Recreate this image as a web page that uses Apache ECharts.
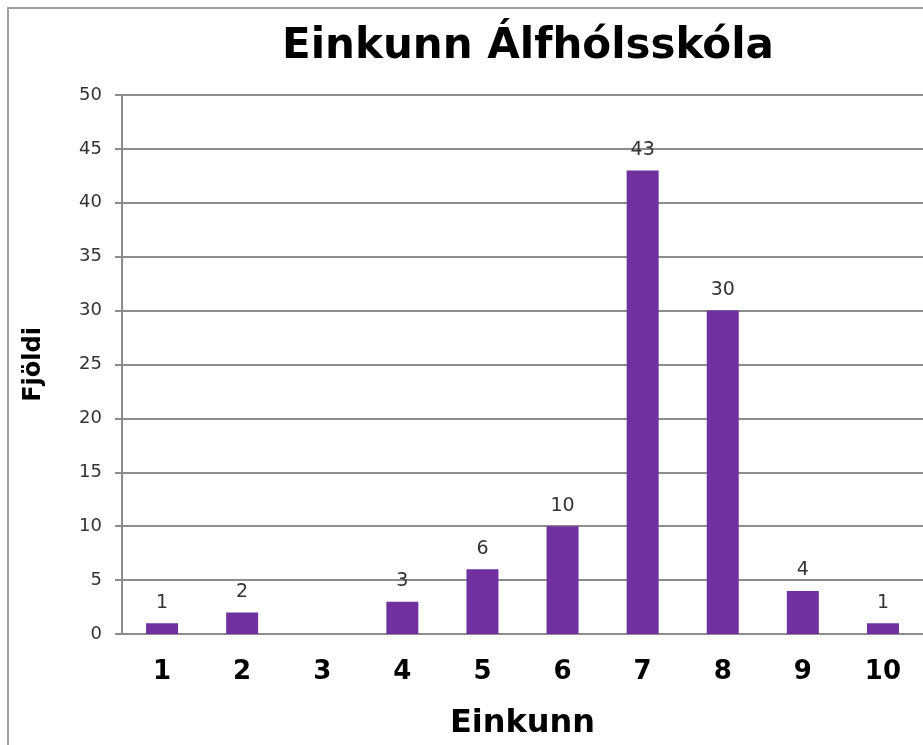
<!DOCTYPE html>
<html lang="is">
<head>
  <meta charset="UTF-8">
  <title>Einkunn Álfhólsskóla</title>
  <script src="https://cdnjs.cloudflare.com/ajax/libs/echarts/6.0.0/echarts.min.js"></script>
  <style>
    html, body { margin: 0; padding: 0; background: #fff; }
    #chart { width: 923px; height: 745px; }
  </style>
</head>
<body>
<div id="chart"></div>
<script>
  // gögn úr myndinni
  var einkunnir = ['1', '2', '3', '4', '5', '6', '7', '8', '9', '10'];
  var fjoldi = [1, 2, 0, 3, 6, 10, 43, 30, 4, 1];
  var yMax = 50;
  var yStep = 5;

  var chart = echarts.init(document.getElementById('chart'));

  var option = {
    backgroundColor: '#fff',
    textStyle: { fontFamily: 'DejaVu Sans' },
    title: {
      text: 'Einkunn Álfhólsskóla',
      left: 277,
      top: 21,
      textStyle: { fontSize: 42, fontWeight: 'bold', color: '#000', fontFamily: 'DejaVu Sans' }
    },
    graphic: [{
      type: 'rect',
      shape: { x: 8, y: 8, width: 940, height: 760 },
      style: { fill: 'none', stroke: '#a0a0a0', lineWidth: 2 },
      silent: true
    }],
    grid: { left: 122, right: -1, top: 95, bottom: 109 },
    xAxis: {
      type: 'category',
      data: einkunnir,
      name: 'Einkunn',
      nameLocation: 'middle',
      nameGap: 74,
      nameTextStyle: { fontSize: 32, fontWeight: 'bold', color: '#000' },
      axisLine: { lineStyle: { color: '#8c8c8c', width: 2 } },
      axisTick: { show: false },
      axisLabel: { fontSize: 26, fontWeight: 'bold', color: '#000', margin: 25 }
    },
    yAxis: {
      type: 'value',
      min: 0,
      max: yMax,
      interval: yStep,
      name: 'Fjöldi',
      nameLocation: 'middle',
      nameGap: 76,
      nameTextStyle: { fontSize: 24, fontWeight: 'bold', color: '#000' },
      axisLine: { show: true, lineStyle: { color: '#8c8c8c', width: 2 } },
      axisTick: { show: true, length: 7, lineStyle: { color: '#8c8c8c', width: 2 } },
      axisLabel: { fontSize: 18, color: '#333', margin: 20 },
      splitLine: { lineStyle: { color: '#8c8c8c', width: 2 } }
    },
    series: [{
      type: 'bar',
      data: fjoldi,
      barWidth: 32,
      itemStyle: { color: '#7030a0' },
      label: {
        show: true,
        position: 'top',
        distance: 11,
        fontSize: 19,
        color: '#333',
        formatter: function (p) { return p.value ? p.value : ''; }
      }
    }]
  };

  chart.setOption(option);
</script>
</body>
</html>
